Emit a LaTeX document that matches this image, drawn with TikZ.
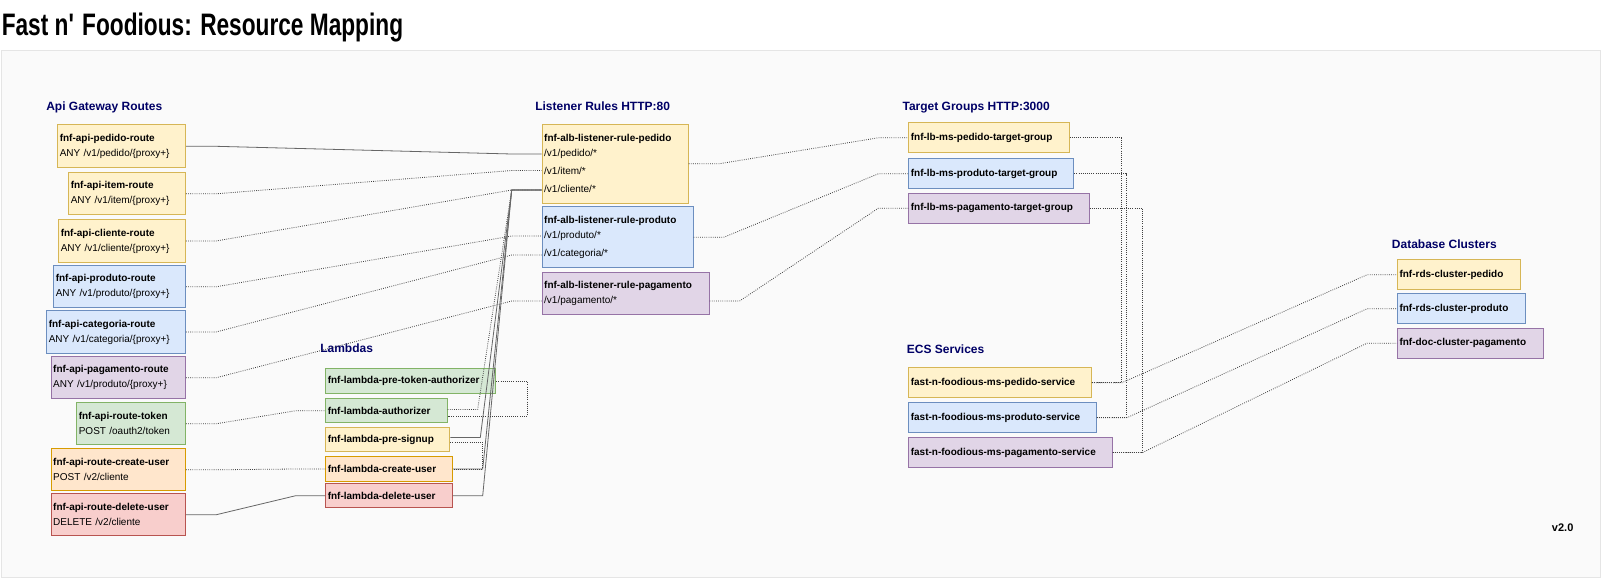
\documentclass[tikz,border=0pt]{standalone}
\usepackage{fontspec}
\setmainfont{Liberation Sans}
\newfontfamily\titlefont[FakeStretch=0.73]{Liberation Sans}
\usetikzlibrary{calc}

\definecolor{ylwF}{HTML}{FFF2CC}\definecolor{ylwD}{HTML}{D6B656}
\definecolor{bluF}{HTML}{DAE8FC}\definecolor{bluD}{HTML}{6C8EBF}
\definecolor{purF}{HTML}{E1D5E7}\definecolor{purD}{HTML}{9673A6}
\definecolor{grnF}{HTML}{D5E8D4}\definecolor{grnD}{HTML}{82B366}
\definecolor{orgF}{HTML}{FFE6CC}\definecolor{orgD}{HTML}{D79B00}
\definecolor{redF}{HTML}{F8CECC}\definecolor{redD}{HTML}{B85450}
\definecolor{headblue}{HTML}{000066}

\begin{document}
\begin{tikzpicture}[
  x=0.75pt, y=-0.75pt,
  ent/.style={draw, line width=0.75pt, anchor=north west, align=left, inner xsep=1.5pt, inner ysep=0pt,
    font=\fontsize{7.5pt}{11.25pt}\selectfont},
  ylw/.style={ent, draw=ylwD, fill=ylwF},
  blu/.style={ent, draw=bluD, fill=bluF},
  pur/.style={ent, draw=purD, fill=purF},
  grn/.style={ent, draw=grnD, fill=grnF},
  org/.style={ent, draw=orgD, fill=orgF},
  rdd/.style={ent, draw=redD, fill=redF},
  one/.style={minimum height=22.5pt, font=\bfseries\fontsize{7.5pt}{9pt}\selectfont},
  grp/.style={anchor=base west, inner sep=0pt, text=headblue, font=\bfseries\fontsize{9pt}{11pt}\selectfont},
  conn/.style={densely dotted, line width=0.6pt, draw=black!75},
  connsolid/.style={line width=0.6pt, draw=black!60},
  erel/.style={to path={-- ++(30,0) -- ($(\tikztotarget)+(-30,0)$) -- (\tikztotarget)}}
]
  \useasboundingbox (0,0) rectangle (1602,578);

  \node[anchor=base west, inner sep=0pt, font=\titlefont\bfseries\fontsize{23.3pt}{28pt}\selectfont] (title)
    at (1.5,35) {Fast n\textquotesingle\ Foodious: Resource Mapping};
  \draw[fill=black!2, draw=black!10, line width=0.75pt] (1,50) rectangle (1600,577);

  % group headings
  \node[grp] (hRoutes) at (46,110.3)   {Api Gateway Routes};
  \node[grp] (hRules)  at (535,110.3)  {Listener Rules HTTP:80};
  \node[grp] (hTg)     at (902.3,110.3) {Target Groups HTTP:3000};
  \node[grp] (hLambda) at (320,352.5)  {Lambdas};
  \node[grp] (hEcs)    at (906.7,353.5) {ECS Services};
  \node[grp] (hDb)     at (1391.7,248)  {Database Clusters};
  \node[anchor=base west, inner sep=0pt, font=\bfseries\fontsize{8.25pt}{10pt}\selectfont] (ver) at (1551.7,531.5) {v2.0};

  % Api Gateway routes
  \node[ylw, text width=92.8pt, minimum height=32.25pt] (rtPedido) at (57.3,124.3)
    {\textbf{fnf-api-pedido-route}\\ANY /v1/pedido/\{proxy+\}};
  \node[ylw, text width=84.5pt, minimum height=31.5pt] (rtItem) at (68.3,172.3)
    {\textbf{fnf-api-item-route}\\ANY /v1/item/\{proxy+\}};
  \node[ylw, text width=92pt, minimum height=31.8pt] (rtCliente) at (58.3,219.3)
    {\textbf{fnf-api-cliente-route}\\ANY /v1/cliente/\{proxy+\}};
  \node[blu, text width=95.8pt, minimum height=31.5pt] (rtProduto) at (53.3,265.3)
    {\textbf{fnf-api-produto-route}\\ANY /v1/produto/\{proxy+\}};
  \node[blu, text width=101pt, minimum height=31.8pt] (rtCategoria) at (46.3,310.3)
    {\textbf{fnf-api-categoria-route}\\ANY /v1/categoria/\{proxy+\}};
  \node[pur, text width=97.7pt, minimum height=31.5pt] (rtPagamento) at (50.7,356.3)
    {\textbf{fnf-api-pagamento-route}\\ANY /v1/produto/\{proxy+\}};
  \node[grn, text width=78.5pt, minimum height=31.5pt] (rtToken) at (76.3,402.3)
    {\textbf{fnf-api-route-token}\\POST /oauth2/token};
  \node[org, text width=97.7pt, minimum height=31.5pt] (rtCreate) at (50.7,448.3)
    {\textbf{fnf-api-route-create-user}\\POST /v2/cliente};
  \node[rdd, text width=97.7pt, minimum height=31.5pt] (rtDelete) at (50.7,493.3)
    {\textbf{fnf-api-route-delete-user}\\DELETE /v2/cliente};

  % Lambdas
  \node[grn, one, text width=124.5pt, minimum height=18.3pt] (lPreToken) at (325.3,368.3) {fnf-lambda-pre-token-authorizer};
  \node[grn, one, text width=88pt, minimum height=18pt]  (lAuth)      at (325.3,398.3) {fnf-lambda-authorizer};
  \node[ylw, one, text width=90pt, minimum height=18pt]  (lPreSignup) at (325.3,427.3) {fnf-lambda-pre-signup};
  \node[org, one, text width=91.8pt, minimum height=18.3pt] (lCreate) at (325.3,456.3) {fnf-lambda-create-user};
  \node[rdd, one, text width=91.8pt, minimum height=18pt] (lDelete)  at (325.3,483.3) {fnf-lambda-delete-user};

  % Listener rules
  \node[ylw, text width=106.5pt, minimum height=59pt, font=\fontsize{7.5pt}{13.5pt}\selectfont] (rPedido) at (541.7,124)
    {\textbf{fnf-alb-listener-rule-pedido}\\[-2.25pt]/v1/pedido/*\\/v1/item/*\\/v1/cliente/*};
  \node[blu, text width=110.2pt, minimum height=45.75pt, font=\fontsize{7.5pt}{13.5pt}\selectfont] (rProduto) at (541.7,206.3)
    {\textbf{fnf-alb-listener-rule-produto}\\[-2.25pt]/v1/produto/*\\/v1/categoria/*};
  \node[pur, text width=122.2pt, minimum height=32pt] (rPagamento) at (541.7,271.7)
    {\textbf{fnf-alb-listener-rule-pagamento}\\/v1/pagamento/*};

  % Target groups
  \node[ylw, one, text width=117.3pt] (tgPedido)    at (908.3,122.3) {fnf-lb-ms-pedido-target-group};
  \node[blu, one, text width=120.7pt] (tgProduto)   at (908.3,158.3) {fnf-lb-ms-produto-target-group};
  \node[pur, one, text width=132.3pt] (tgPagamento) at (908.3,192.7) {fnf-lb-ms-pagamento-target-group};

  % ECS services
  \node[ylw, one, text width=133.8pt] (svPedido)    at (908.3,367.3) {fast-n-foodious-ms-pedido-service};
  \node[blu, one, text width=137.5pt] (svProduto)   at (908.3,402.3) {fast-n-foodious-ms-produto-service};
  \node[pur, one, text width=149.5pt] (svPagamento) at (908.3,437)   {fast-n-foodious-ms-pagamento-service};

  % Database clusters
  \node[ylw, one, text width=89pt]    (dbPedido)    at (1397,259.3) {fnf-rds-cluster-pedido};
  \node[blu, one, text width=92.8pt]  (dbProduto)   at (1397,293.3) {fnf-rds-cluster-produto};
  \node[pur, one, text width=106.3pt] (dbPagamento) at (1397,327.7) {fnf-doc-cluster-pagamento};

  % row ports
  \coordinate (rPedido-ped)    at (rPedido.west |- 0,154);
  \coordinate (rPedido-item)   at (rPedido.west |- 0,170.5);
  \coordinate (rPedido-cli)    at (rPedido.west |- 0,190);
  \coordinate (rProduto-prod)  at (rProduto.west |- 0,236);
  \coordinate (rProduto-cat)   at (rProduto.west |- 0,255);
  \coordinate (rPagamento-pag) at (rPagamento.west |- 0,301);
  \coordinate (rPagamento-out) at (rPagamento.east |- 0,301);
  \coordinate (lAuth-hi)       at ([yshift=1pt]lAuth.east);
  \coordinate (lAuth-lo)       at ([yshift=-4pt]lAuth.east);
  \coordinate (lPreSignup-hi)  at ([yshift=1.7pt]lPreSignup.east);
  \coordinate (lPreSignup-lo)  at ([yshift=-1.8pt]lPreSignup.east);

  % routes -> listener rules
  \draw[connsolid] (rtPedido.east) to[erel] (rPedido-ped);
  \draw[conn] (rtItem.east)      to[erel] (rPedido-item);
  \draw[conn] (rtCliente.east)   to[erel] (rPedido-cli);
  \draw[conn] (rtProduto.east)   to[erel] (rProduto-prod);
  \draw[conn] (rtCategoria.east) to[erel] (rProduto-cat);
  \draw[conn] (rtPagamento.east) to[erel] (rPagamento-pag);

  % routes -> lambdas
  \draw[conn] (rtToken.east)  to[erel] (lAuth.west);
  \draw[conn] (rtCreate.east) to[erel] (lCreate.west);
  \draw[connsolid] (rtDelete.east) to[erel] (lDelete.west);

  % lambdas -> listener rule
  \draw[conn] (lAuth-hi) to[erel] (rPedido-cli);
  \draw[connsolid] (lPreSignup-hi) to[erel] (rPedido-cli);
  \draw[connsolid] (lCreate.east) to[erel] (rPedido-cli);
  \draw[connsolid] (lDelete.east) to[erel] (rPedido-cli);
  \draw[conn] (lPreToken.east) -- ++(30.7,0) |- (lAuth-lo);
  \draw[conn] (lPreSignup-lo) -- ++(32.4,0) |- (lCreate.east);

  % listener rules -> target groups
  \draw[conn] (rPedido.east)   to[erel] (tgPedido.west);
  \draw[conn] (rProduto.east)  to[erel] (tgProduto.west);
  \draw[conn] (rPagamento-out) to[erel] (tgPagamento.west);

  % target groups -> services
  \draw[conn] (tgPedido.east)    -- ++(51.3,0) |- (svPedido.east);
  \draw[conn] (tgProduto.east)   -- ++(51.7,0) |- (svProduto.east);
  \draw[conn] (tgPagamento.east) -- ++(53,0)   |- (svPagamento.east);

  % services -> databases
  \draw[conn] (svPedido.east)    to[erel] (dbPedido.west);
  \draw[conn] (svProduto.east)   to[erel] (dbProduto.west);
  \draw[conn] (svPagamento.east) to[erel] (dbPagamento.west);
\end{tikzpicture}
\end{document}
